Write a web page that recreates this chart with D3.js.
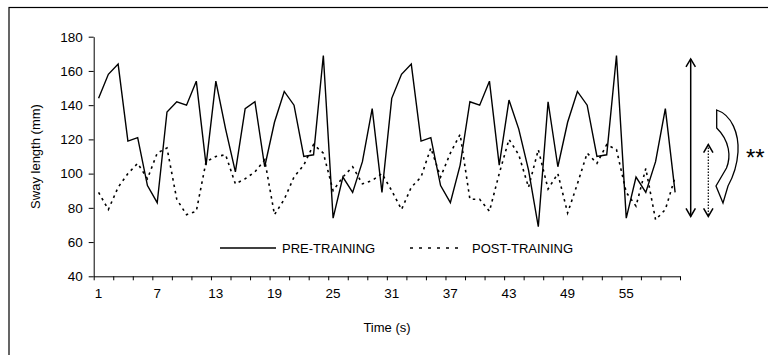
<!DOCTYPE html>
<html>
<head>
<meta charset="utf-8">
<script src="https://cdn.jsdelivr.net/npm/d3@7"></script>
<style>
  body { margin: 0; background: #fff; }
  svg { display: block; font-family: Arial, "Liberation Sans", sans-serif; }
  .axis path, .axis line { stroke: #000; }
  .axis text { font-size: 13.5px; fill: #000; }
</style>
</head>
<body>
<svg width="768" height="355"></svg>
<script>
// time points 1..60 (s)
const seconds = d3.range(1, 61);
const xLabels = [1, 7, 13, 19, 25, 31, 37, 43, 49, 55];
const yTicks = [40, 60, 80, 100, 120, 140, 160, 180];

const preTraining = [
  144, 158, 164, 119, 121, 93, 83, 136, 142, 140,
  154, 105, 154, 126, 101, 138, 142, 104, 130, 148,
  140, 110, 111, 169, 74, 98, 89, 107, 138, 89,
  144, 158, 164, 119, 121, 93, 83, 105, 142, 140,
  154, 105, 143, 126, 102, 69, 142, 104, 130, 148,
  140, 110, 111, 169, 74, 98, 89, 107, 138, 89
];
const postTraining = [
  89, 79, 92, 100, 106, 97, 112, 115, 85, 76,
  78, 107, 110, 111, 94, 97, 101, 108, 76, 85,
  98, 105, 117, 112, 90, 98, 104, 94, 96, 100,
  90, 79, 92, 98, 115, 98, 112, 123, 85, 85,
  78, 100, 120, 111, 92, 114, 91, 100, 77, 94,
  112, 106, 117, 114, 89, 81, 103, 73, 79, 98
];
// value ranges marked by the arrows on the right
const preRange = [75, 167];
const postRange = [75, 117];

const svg = d3.select("svg");
const plotLeft = 93.7, plotRight = 680, plotTop = 36.7, plotBottom = 276.3;

// outer frame
svg.append("rect")
  .attr("x", 9).attr("y", 7.5)
  .attr("width", 780).attr("height", 380)
  .attr("fill", "none").attr("stroke", "#000").attr("stroke-width", 1.2);

const x = d3.scaleBand().domain(seconds).range([plotLeft, plotRight]).paddingInner(0).paddingOuter(0);
const xb = d3.scaleLinear().domain([0, 60]).range([plotLeft, plotRight]);
const y = d3.scaleLinear().domain([40, 180]).range([plotBottom, plotTop]);
const cx = d => x(d) + x.bandwidth() / 2;

// y axis
svg.append("g")
  .attr("class", "axis")
  .attr("transform", "translate(" + plotLeft + ",0)")
  .call(d3.axisLeft(y).tickValues(yTicks).tickSize(5).tickSizeOuter(0).tickPadding(6));

// x axis: tick marks every 2 s at category edges
svg.append("g")
  .attr("class", "axis")
  .attr("transform", "translate(0," + plotBottom + ")")
  .call(d3.axisBottom(xb).tickValues(d3.range(0, 61, 2)).tickFormat("").tickSize(4).tickSizeOuter(0));

// x labels centred in their category
svg.append("g")
  .attr("class", "axis")
  .attr("transform", "translate(0," + plotBottom + ")")
  .call(d3.axisBottom(x).tickValues(xLabels).tickSize(0).tickPadding(12))
  .select(".domain").remove();

// axis titles
svg.append("text")
  .attr("transform", "translate(40," + ((plotTop + plotBottom) / 2) + ")rotate(-90)")
  .attr("text-anchor", "middle")
  .attr("font-size", 13)
  .text("Sway length (mm)");

svg.append("text")
  .attr("x", 387).attr("y", 332)
  .attr("text-anchor", "middle")
  .attr("font-size", 13)
  .text("Time (s)");

// series
const line = d3.line().x((d, i) => cx(seconds[i])).y(d => y(d));

svg.append("path")
  .datum(preTraining)
  .attr("d", line)
  .attr("fill", "none")
  .attr("stroke", "#000")
  .attr("stroke-width", 1.4);

svg.append("path")
  .datum(postTraining)
  .attr("d", line)
  .attr("fill", "none")
  .attr("stroke", "#000")
  .attr("stroke-width", 1.6)
  .attr("stroke-dasharray", "2.5,4");

// legend
const legend = svg.append("g").attr("font-size", 13);
legend.append("line")
  .attr("x1", 220).attr("x2", 276).attr("y1", 248).attr("y2", 248)
  .attr("stroke", "#000").attr("stroke-width", 1.4);
legend.append("text").attr("x", 282).attr("y", 252.5).text("PRE-TRAINING");
legend.append("line")
  .attr("x1", 410).attr("x2", 464).attr("y1", 248).attr("y2", 248)
  .attr("stroke", "#000").attr("stroke-width", 1.6).attr("stroke-dasharray", "3,6");
legend.append("text").attr("x", 472).attr("y", 252.5).text("POST-TRAINING");

// range arrows
function arrow(xPos, range, dash) {
  const y1 = y(range[1]), y0 = y(range[0]);
  const g = svg.append("g").attr("stroke", "#000").attr("fill", "none");
  g.append("line")
    .attr("x1", xPos).attr("x2", xPos).attr("y1", y1).attr("y2", y0)
    .attr("stroke-width", dash ? 1.2 : 1.5)
    .attr("stroke-dasharray", dash ? "1.5,1.5" : null);
  g.append("path").attr("d", `M${xPos - 4.7},${y1 + 8}L${xPos},${y1}L${xPos + 4.7},${y1 + 8}`).attr("stroke-width", 1.5);
  g.append("path").attr("d", `M${xPos - 4.7},${y0 - 8}L${xPos},${y0}L${xPos + 4.7},${y0 - 8}`).attr("stroke-width", 1.5);
}
arrow(690.7, preRange, false);
arrow(708.3, postRange, true);

// curved block arrow
svg.append("path")
  .attr("d", "M716.7,110 C732,115 739,134 738,152 C737,167 733,177 728,186 L723,203 L716,186 L726.5,168 C731,157 730,141 716.7,128 Z")
  .attr("fill", "#fff").attr("stroke", "#000").attr("stroke-width", 1.3);

svg.append("text")
  .attr("x", 746).attr("y", 166)
  .attr("font-size", 24)
  .text("**");
</script>
</body>
</html>
